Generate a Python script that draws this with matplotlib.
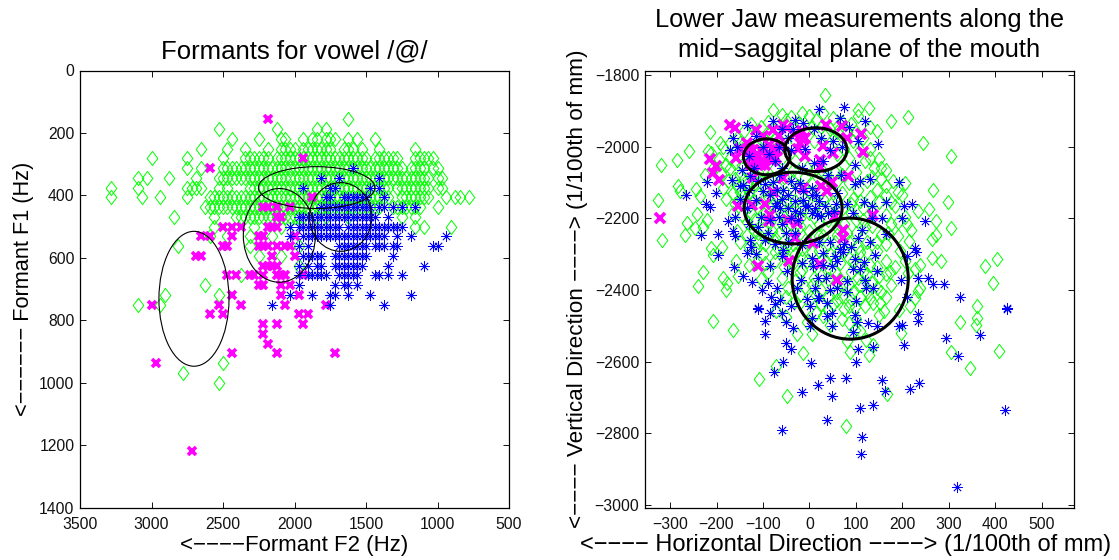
import matplotlib
matplotlib.use("Agg")
import matplotlib.pyplot as plt
from matplotlib.patches import Ellipse
from matplotlib.path import Path

plt.rcParams['font.family'] = ['Liberation Sans', 'DejaVu Sans']

# ---------- Left panel: formants, rows of F1 (Hz) -> F2 values (Hz)
formant_green = {
 156: [1625],
 188: [2531, 2125, 1844, 1781],
 219: [2438, 2250, 2094, 2063, 1938, 1875, 1844, 1781, 1750, 1719, 1625, 1563, 1438],
 250: [2656, 2469, 2344, 2188, 2094, 2063, 2031, 2000, 1938, 1906, 1875, 1844, 1813, 1781, 1750, 1656, 1625, 1594, 1531, 1406, 1156],
 281: [3000, 2750, 2500, 2344, 2313, 2281, 2250, 2219, 2188, 2125, 2094, 2063, 2031, 2000, 1969, 1938, 1906, 1875, 1844, 1813, 1781, 1750, 1719, 1688, 1656, 1625, 1594, 1563, 1531, 1500, 1438, 1406, 1375, 1344, 1313, 1281, 1156, 1125, 1094, 1063, 1031],
 313: [2750, 2656, 2500, 2469, 2438, 2406, 2375, 2344, 2313, 2281, 2250, 2219, 2188, 2156, 2125, 2094, 2063, 2031, 2000, 1969, 1938, 1906, 1875, 1844, 1813, 1781, 1750, 1719, 1688, 1656, 1625, 1594, 1563, 1531, 1500, 1469, 1438, 1406, 1375, 1344, 1313, 1281, 1250, 1188, 1156, 1125, 1094, 1031, 1000],
 344: [3094, 3031, 2875, 2688, 2531, 2500, 2469, 2438, 2406, 2375, 2344, 2313, 2281, 2250, 2219, 2188, 2156, 2125, 2094, 2063, 2031, 2000, 1969, 1938, 1906, 1875, 1844, 1813, 1781, 1750, 1719, 1688, 1656, 1625, 1594, 1563, 1531, 1500, 1469, 1438, 1406, 1375, 1344, 1313, 1281, 1250, 1219, 1188, 1156, 1125, 1094, 1063, 1000, 969],
 375: [3281, 3094, 2750, 2719, 2688, 2656, 2531, 2469, 2313, 2281, 2250, 2219, 2188, 2156, 2125, 2094, 2063, 2031, 2000, 1969, 1938, 1906, 1875, 1844, 1813, 1781, 1750, 1719, 1688, 1656, 1625, 1594, 1563, 1531, 1500, 1469, 1438, 1406, 1375, 1344, 1281, 1250, 1219, 1188, 1156, 1125, 1094, 1063, 1000, 969],
 406: [3281, 3063, 2938, 2750, 2594, 2563, 2531, 2500, 2469, 2438, 2406, 2375, 2344, 2313, 2281, 2250, 2219, 2188, 2156, 2125, 2094, 2063, 2031, 2000, 1969, 1938, 1906, 1875, 1844, 1813, 1781, 1750, 1719, 1688, 1656, 1625, 1594, 1563, 1531, 1500, 1469, 1438, 1406, 1375, 1344, 1250, 1219, 1188, 1156, 1125, 1094, 1063, 938, 875, 844, 781],
 438: [2625, 2594, 2563, 2531, 2500, 2469, 2438, 2406, 2375, 2344, 2313, 2281, 2250, 2219, 2188, 2156, 2125, 2094, 2063, 2031, 2000, 1969, 1938, 1906, 1875, 1844, 1813, 1781, 1750, 1719, 1688, 1656, 1625, 1594, 1563, 1531, 1500, 1469, 1438, 1406, 1313, 1281, 1250, 1219, 1188, 1156, 1125, 1000],
 469: [2844, 2563, 2406, 2375, 2344, 2313, 2281, 2250, 2219, 2188, 2156, 2125, 2094, 2063, 2031, 2000, 1969, 1938, 1844, 1781, 1625, 1250, 1156],
 500: [2563, 2281, 2094, 2000, 1156, 1094, 906],
 531: [2594, 2469, 2313, 2156],
 563: [2813, 2313, 1969],
 594: [2250, 2094],
 625: [1969],
 656: [2375],
 688: [2625],
 719: [2906, 2531],
 750: [3094, 2938],
 938: [2500],
 969: [2781],
 1000: [2531],
}
formant_magenta = {
 156: [2188],
 281: [1938],
 313: [2594],
 406: [1875],
 438: [2219, 2188, 2125, 2031],
 469: [2125, 2094],
 500: [2500, 2438, 2375, 2188, 2156, 2125],
 531: [2656, 2594, 2438, 2250, 2219, 2000],
 563: [2500, 2469, 2250, 2219, 2188, 2125, 2063, 2031],
 594: [2688, 2656, 2156, 2000],
 625: [2219, 2188, 2156, 2125],
 656: [2469, 2406, 2313, 2281, 2219, 2125, 2094, 2063, 1938],
 688: [2250, 2219, 2094, 2031],
 719: [2438, 2094, 1969],
 750: [3000, 2531, 2375, 2063, 1781],
 781: [2594, 2500, 1969, 1906],
 813: [2219, 2125, 1938],
 844: [2219],
 875: [2188],
 906: [2438, 2125, 1719],
 938: [2969],
 1219: [2719],
}
formant_blue = {
 313: [1594],
 344: [1813, 1688, 1406],
 375: [1938, 1750, 1719, 1469, 1406],
 406: [1781, 1750, 1656, 1625, 1594, 1563, 1531, 1500, 1375],
 438: [1813, 1781, 1750, 1719, 1688, 1656, 1625, 1594, 1563, 1531, 1500, 1469, 1406, 1375, 1313, 1250, 1156],
 469: [1969, 1938, 1906, 1875, 1844, 1813, 1781, 1750, 1719, 1688, 1656, 1625, 1594, 1563, 1531, 1500, 1469, 1438, 1344],
 500: [2031, 1969, 1938, 1906, 1875, 1844, 1813, 1781, 1750, 1719, 1688, 1625, 1594, 1563, 1531, 1500, 1469, 1438, 1406, 1375, 1344, 1313, 1281, 1250],
 531: [2031, 1938, 1906, 1875, 1844, 1813, 1781, 1750, 1719, 1688, 1656, 1625, 1594, 1563, 1531, 1500, 1469, 1438, 1406, 1375, 1281, 1188, 938],
 563: [1969, 1906, 1688, 1656, 1625, 1594, 1563, 1531, 1500, 1438, 1406, 1375, 1313, 1281, 1031, 1000],
 594: [1938, 1906, 1875, 1844, 1813, 1719, 1688, 1656, 1625, 1594, 1563, 1531, 1500, 1313],
 625: [1969, 1906, 1844, 1813, 1719, 1688, 1656, 1625, 1594, 1563, 1531, 1344, 1094],
 656: [1969, 1906, 1875, 1844, 1813, 1781, 1688, 1656, 1625, 1594, 1563, 1438, 1406, 1344, 1250],
 688: [1969, 1719, 1656, 1625, 1563],
 719: [2031, 1875, 1750, 1719, 1625, 1469, 1188],
 750: [2156, 1750, 1375],
}
f2_ticks = [3500, 3000, 2500, 2000, 1500, 1000, 500]
f1_ticks = [0, 200, 400, 600, 800, 1000, 1200, 1400]
# (centre F2, centre F1, width, height)
formant_ellipses = [
 (2703, 731, 490, 432),
 (2106, 528, 504, 300),
 (1677, 469, 436, 220),
 (1845, 375, 814, 134),
]

# ---------- Right panel: jaw positions (horizontal, vertical)
jaw_green = [
 (34,-1854),(213,-1916),(129,-1892),(105,-1897),(175,-1929),(244,-1990),(305,-2027),(-320,-2052),(-285,-2036),(-260,-2011),
 (-213,-1959),(-327,-2148),(-318,-2261),(-284,-2109),(-279,-2124),(-244,-2118),(-236,-2136),(-268,-2245),(-263,-2213),(-243,-2188),
 (-221,-2203),(-230,-2225),(-246,-2227),(-211,-2282),(-189,-2281),(-208,-2301),(-230,-2350),(-239,-2389),(-185,-2366),(-177,-2380),
 (-180,-2399),(-157,-2320),(-153,-2362),(-225,-2078),(-211,-2017),(-218,-2012),(-193,-1990),(-78,-1897),(267,-2121),(298,-2155),
 (258,-2173),(234,-2180),(273,-2206),(304,-2228),(273,-2245),(264,-2257),(218,-2233),(215,-2264),(265,-2310),(283,-2318),
 (378,-2333),(405,-2312),(396,-2380),(238,-2329),(227,-2341),(238,-2394),(234,-2403),(213,-2352),(174,-2350),(362,-2444),
 (362,-2479),(359,-2497),(325,-2490),(305,-2573),(408,-2569),(346,-2618),(197,-2520),(-208,-2487),(-164,-2511),(-72,-2459),
 (-50,-2476),(-27,-2523),(5,-2523),(-13,-2576),(-72,-2611),(-108,-2648),(-49,-2697),(79,-2780),(168,-2691),(128,-2582),
 (87,-2573),(138,-2552),(123,-2538),(82,-2543),(161,-2459),(152,-2436),(138,-2436),(130,-2422),(120,-2445),(98,-2447),
 (75,-2453),(86,-2492),(109,-2515),(98,-2512),(30,-2471),(44,-2497),(3,-2419),(59,-2427),(70,-2417),(217,-2445),
 (227,-2422),(192,-2455),
 (-60,-1910),(-50,-1925),(-40,-1918),(-20,-1935),(0,-1915),(15,-1925),(30,-1905),(50,-1920),(70,-1930),(90,-1935),
 (105,-1915),(130,-1945),(145,-1955),(-90,-1930),(-105,-1945),(-125,-1935),(-140,-1955),(-155,-1975),(-170,-1990),(-185,-2000),
 (-170,-2030),(-180,-2050),(-190,-2075),(-175,-2095),(-185,-2115),(-165,-2130),(-180,-2145),(-160,-2160),(-145,-2050),(-150,-2080),
 (-135,-2105),(-140,-2135),(-120,-2150),(-125,-2185),(-135,-2210),(-120,-2235),(-145,-2190),(-155,-2235),(-110,-2265),(-130,-2280),
 (-100,-2300),(-115,-2325),(-90,-2350),(-75,-2320),(-60,-2365),(-45,-2395),(-70,-2420),(-30,-2430),(-20,-2350),(-30,-2300),
 (-45,-2270),(-65,-2240),(-85,-2210),(-100,-2185),(-80,-2165),(-60,-2190),(-40,-2215),(-20,-2240),(0,-2265),(20,-2290),
 (35,-2320),(55,-2350),(75,-2380),(95,-2405),(25,-2400),(10,-2365),(-5,-2320),(-15,-2285),(30,-2250),(55,-2265),
 (75,-2290),(95,-2320),(115,-2350),(135,-2380),(155,-2405),(175,-2385),(165,-2320),(145,-2290),(125,-2265),(100,-2240),
 (75,-2215),(55,-2190),(30,-2170),(10,-2195),(-10,-2170),(-30,-2150),(-50,-2130),(-70,-2110),(-90,-2090),(-110,-2070),
 (-130,-2045),(-115,-2020),(-95,-2000),(-75,-1975),(-55,-1960),(-30,-1985),(-10,-1960),(10,-1985),(35,-1965),(55,-1985),
 (75,-2005),(95,-1985),(115,-1975),(130,-2005),(150,-2035),(165,-2065),(180,-2095),(140,-2060),(120,-2040),(100,-2070),
 (75,-2050),(55,-2070),(35,-2085),(15,-2060),(-10,-2085),(-35,-2065),(-55,-2085),(-75,-2060),(-95,-2120),(-115,-2105),
 (85,-2100),(105,-2120),(125,-2095),(145,-2120),(165,-2135),(150,-2155),(135,-2180),(115,-2170),(95,-2145),(70,-2130),
 (50,-2130),(25,-2125),(0,-2125),(-25,-2110),(165,-2190),(185,-2165),(200,-2135),(175,-2215),(155,-2245),(190,-2250),
 (135,-2220),(115,-2205),(90,-2185),(-155,-2110),(-165,-2185),(-150,-2265),(-130,-2330),(-105,-2370),(-170,-2060),(-160,-2015),
 (-140,-2000),(-195,-2035),(-205,-2055),(-90,-2250),(-70,-2280),(-50,-2310),(-10,-2390),(10,-2330),(40,-2370),(60,-2300),
 (90,-2350),(110,-2295),(130,-2330),(150,-2360),(195,-2290),(205,-2320),(110,-2385),(85,-2445),(50,-2440),(25,-2440),
 # denser core of the cloud
 (-150,-1990),(-130,-2015),(-145,-2025),(-160,-2045),(-120,-2040),(-100,-2065),(-135,-2070),(-160,-2090),(-140,-2090),(-120,-2085),
 (-150,-2125),(-130,-2125),(-110,-2130),(-90,-2140),(-70,-2135),(-50,-2150),(-30,-2175),(-10,-2145),(10,-2165),(30,-2145),
 (50,-2155),(70,-2175),(90,-2160),(110,-2150),(130,-2140),(-150,-2150),(-130,-2165),(-110,-2170),(-90,-2165),(-100,-2205),
 (-80,-2190),(-60,-2165),(-40,-2185),(-20,-2200),(0,-2185),(20,-2215),(40,-2205),(60,-2225),(80,-2240),(100,-2205),
 (120,-2225),(-120,-2205),(-110,-2240),(-135,-2245),(-100,-2230),(-80,-2235),(-60,-2215),(-40,-2245),(-20,-2220),(0,-2235),
 (20,-2250),(40,-2270),(60,-2245),(85,-2265),(105,-2280),(125,-2295),(145,-2265),(165,-2270),(170,-2240),(-115,-2285),
 (-95,-2270),(-75,-2255),(-55,-2290),(-35,-2270),(-15,-2310),(5,-2295),(25,-2320),(45,-2300),(65,-2325),(85,-2310),
 (105,-2330),(125,-2355),(145,-2335),(165,-2355),(185,-2335),(-95,-2325),(-75,-2295),(-55,-2335),(-35,-2325),(-15,-2345),
 (5,-2385),(25,-2360),(45,-2345),(65,-2370),(85,-2385),(105,-2365),(125,-2405),(145,-2395),(165,-2420),(-30,-2375),
 (-50,-2420),(-20,-2415),(15,-2415),(40,-2420),(60,-2405),(90,-2425),(110,-2420),(150,-2470),(100,-2480),(70,-2480),
 (40,-2455),(15,-2465),(-10,-2455),(-5,-2490),(-100,-1975),(-85,-1960),(-70,-1945),(-30,-1950),(-15,-1905),(5,-1945),
 (25,-1945),(45,-1950),(60,-1960),(80,-1960),(100,-1960),(60,-2020),(85,-2030),(110,-2010),(130,-2030),(155,-2060),
 (135,-2085),(155,-2090),(165,-2110),(190,-2125),(205,-2100),(175,-2155),(205,-2195),(190,-2210),(210,-2215),(-115,-2000),
 (-60,-2030),(-30,-2040),(-5,-2060),(30,-2070),(60,-2095),(-80,-2090),(-35,-2095),(5,-2105),(40,-2105),(70,-2080),
]
jaw_blue = [
 (21,-1895),(75,-1889),(120,-1927),(67,-1920),(85,-1946),(-134,-1938),(-78,-1929),(-30,-1924),(-13,-1934),(-165,-1976),
 (-172,-2010),(148,-1991),(98,-2050),(192,-2099),(130,-2090),(109,-2096),(98,-2103),(69,-2080),(-266,-2134),(-221,-2098),
 (-201,-2129),(-223,-2160),(-213,-2168),(-233,-2245),(-196,-2243),(-175,-2208),(-164,-2236),(-160,-2250),(-128,-2259),(-196,-2301),
 (-135,-2296),(-114,-2298),(-162,-2335),(-144,-2362),(-123,-2377),(-101,-2399),(-90,-2380),(-69,-2394),(-83,-2419),(-63,-2427),
 (204,-2166),(220,-2161),(248,-2206),(199,-2200),(156,-2200),(118,-2154),(134,-2166),(80,-2161),(95,-2185),(113,-2231),
 (166,-2243),(228,-2282),(230,-2295),(210,-2306),(235,-2366),(256,-2366),(266,-2382),(289,-2382),(197,-2371),(145,-2348),
 (141,-2301),(118,-2321),(98,-2313),(325,-2419),(425,-2450),(210,-2419),(120,-2373),(138,-2394),(123,-2394),(82,-2375),
 (82,-2406),(44,-2399),(21,-2422),(-17,-2371),(-27,-2394),(19,-2366),(73,-2295),(30,-2296),(5,-2310),(8,-2334),
 (48,-2334),(-56,-2287),(-60,-2306),(-49,-2348),(-85,-2334),(-110,-2450),
 (-70,-2157),(-63,-2171),(-74,-2166),(-31,-2180),(-20,-2185),(-2,-2166),(5,-2185),(16,-2190),(26,-2194),(34,-2166),
 (-13,-2124),(5,-2115),(5,-2134),(-13,-2148),(-56,-2120),(-78,-2097),(-99,-2124),(-114,-2148),(-150,-2110),(-142,-2106),
 (-167,-2092),(-128,-2082),(-40,-2200),(-25,-2205),(-60,-2215),(-110,-2225),(-90,-2240),(-130,-2215),(-15,-2060),(10,-2045),
 (30,-2040),(45,-2010),(-75,-2040),(-60,-2060),(-45,-1975),(-100,-2000),(-88,-2020),(-120,-2060),(-20,-2100),(40,-2080),
 (60,-2130),(20,-2150),(-30,-2240),(-45,-2265),(75,-2270),(60,-2320),(95,-2340),(110,-2340),(-115,-1970),(-60,-1950),
 (10,-1950),(50,-1985),(-110,-2453),(-96,-2485),(-96,-2522),(-50,-2490),(-51,-2548),(-40,-2565),(-35,-2506),(-56,-2601),
 (-76,-2629),(4,-2604),(2,-2444),(1,-2501),(5,-2478),(37,-2473),(49,-2464),(49,-2499),(39,-2436),(19,-2422),
 (98,-2469),(103,-2490),(95,-2518),(127,-2492),(145,-2499),(104,-2564),(136,-2560),(100,-2602),(192,-2499),(199,-2497),
 (204,-2554),(233,-2467),(235,-2487),(294,-2534),(321,-2585),(368,-2525),(425,-2452),(44,-2645),(78,-2645),(18,-2664),
 (-15,-2684),(48,-2695),(156,-2652),(162,-2683),(217,-2676),(237,-2660),(109,-2729),(136,-2721),(39,-2764),(-58,-2790),
 (114,-2809),(111,-2857),(421,-2736),(318,-2950),
 # denser core
 (-95,-2105),(-85,-2135),(-70,-2120),(-45,-2135),(-30,-2150),(-10,-2165),(-45,-2170),(-60,-2145),(12,-2170),(40,-2185),
 (52,-2180),(58,-2160),(15,-2135),(-30,-2115),(-40,-2095),(-65,-2080),(-110,-2095),(-130,-2120),(-150,-2145),(-135,-2170),
 (-160,-2195),(-105,-2195),(-85,-2205),(-65,-2195),(-125,-2280),(-95,-2260),(-75,-2270),(-50,-2240),(-15,-2275),(20,-2265),
 (45,-2265),(65,-2285),(90,-2280),(55,-2305),(30,-2330),(-15,-2325),(105,-2255),(130,-2265),(135,-2200),(165,-2155),
 (-40,-2010),(-65,-2000),(-130,-2025),(-145,-2065),(-155,-2000),(-10,-2005),(25,-1975),(70,-2000),(105,-1985),(-35,-1950),
 (12,-2395),(35,-2365),(60,-2395),(-5,-2425),(100,-2430),(-40,-2445),(-75,-2440),(-60,-2465),(-85,-2465),
]
jaw_magenta = [
 (-172,-1940),(-160,-1948),(-114,-1954),(-78,-1952),(-56,-1938),(-49,-1948),(-13,-1980),(35,-1940),(70,-1943),(82,-1976),
 (111,-1963),(116,-2015),(-213,-2033),(-201,-2053),(-207,-2073),(-195,-2092),(-135,-1990),(-157,-2031),(84,-2081),(-322,-2199),
 (-153,-2166),(-123,-2162),(-96,-2161),(-85,-2189),(-86,-2208),(-78,-2127),(-13,-2115),(26,-2110),(37,-2124),(48,-2097),
 (-121,-2087),(-56,-2087),(-45,-2203),(-27,-2213),(-31,-2255),(8,-2269),(55,-2194),(138,-2189),(72,-2231),(73,-2255),
 (23,-2326),(-44,-2320),(-111,-2334),(59,-2371),(-121,-2008),(-110,-2022),(-99,-2036),(-88,-2017),(-78,-2008),(-71,-2031),
 (-114,-2045),(-96,-2050),(-81,-2041),(-128,-2031),(-9,-1976),(-20,-1990),(29,-1999),(50,-2017),(-9,-2027),(23,-2036),(23,-2055),
 (-130,-2005),(-118,-2025),(-105,-2010),(-92,-2030),(-80,-2025),(-105,-2050),(-125,-2050),(-70,-2010),(-62,-2000),(-88,-1995),
 (-100,-1970),(-65,-1970),(-30,-1965),(-15,-1955),(-25,-2005),(-150,-2005),
]
jaw_x_ticks = [-300, -200, -100, 0, 100, 200, 300, 400, 500]
jaw_y_ticks = [-1800, -2000, -2200, -2400, -2600, -2800, -3000]
jaw_ellipses = [
 (-92, -2028, 100, 100),
 (14, -2008, 134, 122),
 (-35, -2171, 211, 200),
 (88, -2368, 250, 338),
]

GREEN, BLUE, MAGENTA = '#00ff00', '#0000ff', '#ff00ff'
DIAMOND = Path([(0, 1), (0.75, 0), (0, -1), (-0.75, 0), (0, 1)], closed=True)
W, H = 1119, 560
STAR = (8, 2, 0)


def flat(rows):
    xs, ys = [], []
    for f1, f2s in rows.items():
        xs += f2s
        ys += [f1] * len(f2s)
    return xs, ys


fig = plt.figure(figsize=(W / 100, H / 100), dpi=100)


def make_axes(left):
    ax = fig.add_axes([left / W, (H - 507.7) / H, 429 / W, 437.2 / H])
    ax.tick_params(direction='in', top=True, right=True, length=4, width=0.7,
                   labelsize=11.3, colors='#111111', pad=4)
    ax.tick_params(axis='x', pad=7)
    for s in ax.spines.values():
        s.set_linewidth(0.9)
    return ax


ax1 = make_axes(80)
x, y = flat(formant_green)
ax1.plot(x, y, ls='none', marker=DIAMOND, ms=10.2, mfc='none', mec=GREEN, mew=0.7)
x, y = flat(formant_magenta)
ax1.plot(x, y, ls='none', marker='x', ms=5.2, mec=MAGENTA, mew=2.6)
x, y = flat(formant_blue)
ax1.plot(x, y, ls='none', marker=STAR, ms=7.4, mec=BLUE, mew=0.55)
for cx, cy, w, h in formant_ellipses:
    ax1.add_patch(Ellipse((cx, cy), w, h, fill=False, ec='black', lw=0.8, zorder=5))
ax1.set_xlim(3500, 500)
ax1.set_ylim(1400, 0)
ax1.set_xticks(f2_ticks)
ax1.set_yticks(f1_ticks)
ax1.set_title('Formants for vowel /@/', fontsize=18.5, pad=9)
ax1.set_xlabel('<\u2212\u2212\u2212\u2212Formant F2 (Hz)', fontsize=16, labelpad=2)
ax1.set_ylabel('<\u2212\u2212\u2212\u2212\u2212\u2212 Formant F1 (Hz)', fontsize=15.7, labelpad=4)

ax2 = make_axes(645)
x, y = zip(*jaw_green)
ax2.plot(x, y, ls='none', marker=DIAMOND, ms=10.2, mfc='none', mec=GREEN, mew=0.7)
x, y = zip(*jaw_magenta)
ax2.plot(x, y, ls='none', marker='x', ms=6.6, mec=MAGENTA, mew=2.6)
x, y = zip(*jaw_blue)
ax2.plot(x, y, ls='none', marker=STAR, ms=7.4, mec=BLUE, mew=0.55)
for cx, cy, w, h in jaw_ellipses:
    ax2.add_patch(Ellipse((cx, cy), w, h, fill=False, ec='black', lw=2.2, zorder=5))
ax2.set_xlim(-354, 570)
ax2.set_ylim(-3007.5, -1787)
ax2.set_xticks(jaw_x_ticks)
ax2.set_yticks(jaw_y_ticks)
ax2.set_title('Lower Jaw measurements along the\nmid\u2212saggital plane of the mouth', fontsize=18.3, pad=10, linespacing=1.28)
ax2.set_xlabel('<\u2212\u2212\u2212\u2212 Horizontal Direction \u2212\u2212\u2212\u2212> (1/100th of mm)', fontsize=17, labelpad=1)
ax2.xaxis.set_label_coords((846 - 645) / 429, -0.06)
ax2.set_ylabel('<\u2212\u2212\u2212\u2212 Vertical Direction \u2212\u2212\u2212\u2212> (1/100th of mm)', fontsize=16.2, labelpad=5)

fig.savefig('out.png', dpi=100)
